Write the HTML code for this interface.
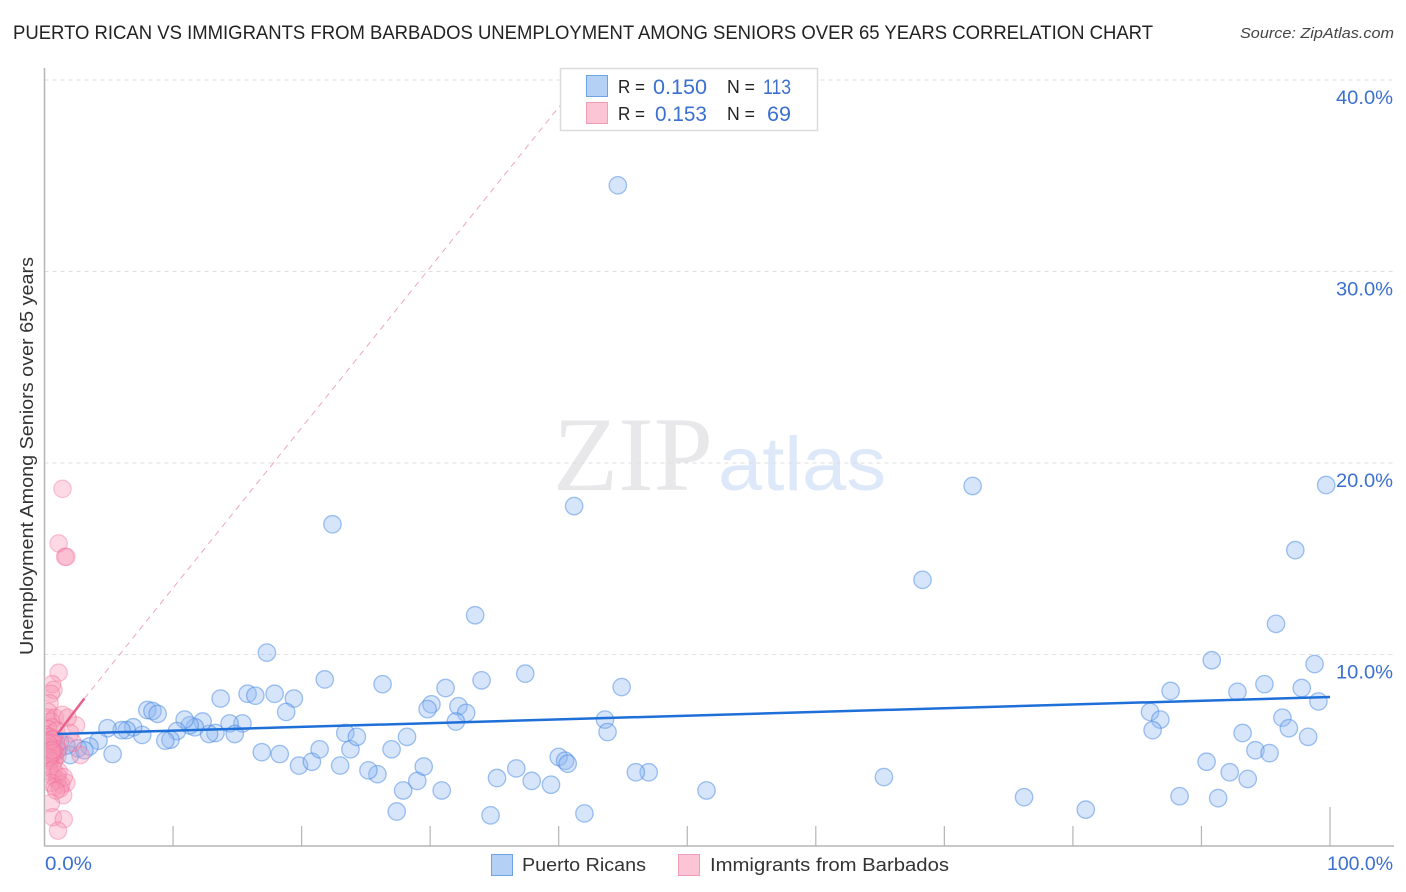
<!DOCTYPE html>
<html lang="en">
<head>
<meta charset="utf-8">
<title>Puerto Rican vs Immigrants from Barbados Unemployment Correlation Chart</title>
<style>
html,body{margin:0;padding:0;background:#fff;}
body{width:1406px;height:892px;overflow:hidden;}
svg{display:block;font-family:"Liberation Sans",sans-serif;}
</style>
</head>
<body>
<svg id="chart" width="1406" height="892" viewBox="0 0 1406 892" xmlns="http://www.w3.org/2000/svg">
  <defs>
    <clipPath id="plot-clip"><rect x="45.5" y="60" width="1350" height="786"/></clipPath>
  </defs>
  <text x="13" y="39" font-size="19.5" fill="#222" textLength="1140" lengthAdjust="spacingAndGlyphs">PUERTO RICAN VS IMMIGRANTS FROM BARBADOS UNEMPLOYMENT AMONG SENIORS OVER 65 YEARS CORRELATION CHART</text>
  <text x="1240" y="38" font-size="15" font-style="italic" fill="#444" textLength="154" lengthAdjust="spacingAndGlyphs">Source: ZipAtlas.com</text>
  <g id="watermark">
    <text x="553" y="490" font-family="'Liberation Serif',serif" font-size="106" fill="#e8e8eb" textLength="160" lengthAdjust="spacingAndGlyphs">ZIP</text>
    <text x="718" y="490" font-size="76" fill="#dde8f8" textLength="168" lengthAdjust="spacingAndGlyphs">atlas</text>
  </g>
  <g id="grid"></g>
  <g id="axes"></g>
  <g id="marks-blue" clip-path="url(#plot-clip)"></g>
  <g id="marks-pink" clip-path="url(#plot-clip)"></g>
  <g id="trends"></g>
  <g id="labels"></g>
  <text transform="translate(33,655) rotate(-90)" font-size="18" fill="#333" textLength="398" lengthAdjust="spacingAndGlyphs">Unemployment Among Seniors over 65 years</text>

  <g>
    <rect x="560.5" y="68.5" width="257" height="62" fill="#fff" stroke="#dcdcdc" stroke-width="1.5"/>
    <rect x="586.5" y="75.5" width="21" height="21" fill="#b5d0f5" stroke="#6ea3e3" stroke-width="1"/>
    <rect x="586.5" y="102.5" width="21" height="21" fill="#fcc5d6" stroke="#f29db8" stroke-width="1"/>
    <text x="618" y="93" font-size="18" fill="#222" textLength="27" lengthAdjust="spacingAndGlyphs">R =</text>
    <text x="653" y="94" font-size="21" fill="#3b70d0" textLength="54" lengthAdjust="spacingAndGlyphs">0.150</text>
    <text x="727" y="93" font-size="18" fill="#222" textLength="28" lengthAdjust="spacingAndGlyphs">N =</text>
    <text x="763" y="94" font-size="21" fill="#3b70d0" textLength="28" lengthAdjust="spacingAndGlyphs">113</text>
    <text x="618" y="120" font-size="18" fill="#222" textLength="27" lengthAdjust="spacingAndGlyphs">R =</text>
    <text x="655" y="121" font-size="21" fill="#3b70d0" textLength="52" lengthAdjust="spacingAndGlyphs">0.153</text>
    <text x="727" y="120" font-size="18" fill="#222" textLength="28" lengthAdjust="spacingAndGlyphs">N =</text>
    <text x="767" y="121" font-size="21" fill="#3b70d0" textLength="24" lengthAdjust="spacingAndGlyphs">69</text>
  </g>

  <g>
    <rect x="491.5" y="854.5" width="21" height="21" fill="#b5d0f5" stroke="#6ea3e3" stroke-width="1"/>
    <text x="522" y="871" font-size="18.5" fill="#333" textLength="124" lengthAdjust="spacingAndGlyphs">Puerto Ricans</text>
    <rect x="678.5" y="854.5" width="21" height="21" fill="#fcc5d6" stroke="#f29db8" stroke-width="1"/>
    <text x="710" y="871" font-size="18.5" fill="#333" textLength="239" lengthAdjust="spacingAndGlyphs">Immigrants from Barbados</text>
  </g>
</svg>
<script>
const yTickValues = [10, 20, 30, 40];
const yTickLabels = ["10.0%", "20.0%", "30.0%", "40.0%"];
const xTickValues = [10, 20, 30, 40, 50, 60, 70, 80, 90, 100];
const xEndLabels = ["0.0%", "100.0%"];

const blueX = [44.6,22.4,41.2,72.2,99.7,97.3,68.3,33.5,95.8,17.3,90.8,98.8,37.4,21.8,34,26.3,44.9,31.2,94.9,97.8,87.6,92.8,15.8,16.4,17.9,13.7,19.4,30.1,29.8,32.2,32.8,18.8,8,8.4,8.8,99.1,86,86.8,86.2,96.3,96.8,98.3,93.2,94.2,95.3,90.4,92.2,93.6,88.3,91.3,76.2,81,65.3,51.5,47,46,43.6,43.8,40,40.5,40.7,36.7,35.2,37.9,39.4,42,34.7,27.4,30.9,27.9,29,29.5,27,28.2,32,25.9,25.2,23,19.8,20.8,21.4,23.8,23.4,24.3,16.9,18.3,15.4,14.4,14.8,13.3,12.8,12.3,11.7,11.3,10.9,10.3,9.8,9.4,7.6,6.9,6.4,6,4.9,5.3,4.2,3.5,2.6,2,1.7,1.2,1,0.6,3.1];
const blueY = [34.5,16.8,17.75,18.8,18.85,15.45,13.9,12.05,11.6,10.1,9.7,9.5,9,8.7,8.65,8.45,8.3,8.25,8.45,8.25,8.1,8.05,7.95,7.85,7.95,7.7,7.7,7.4,7.15,7.3,6.95,7,7.1,7.05,6.9,7.55,7,6.6,6.05,6.7,6.15,5.7,5.9,5,4.85,4.4,3.85,3.5,2.6,2.5,2.55,1.9,3.6,2.9,3.85,3.85,6.6,5.95,4.65,4.45,4.3,4.05,3.55,3.4,3.2,1.7,1.6,1.8,2.9,2.9,3.4,4.15,5.05,5.7,6.5,3.75,3.95,4.2,4.2,4.4,5.05,5.05,5.9,5.7,4.9,4.8,6.4,6.4,5.85,5.9,5.85,6.5,6.2,6.3,6.6,6,5.55,5.5,5.8,6.2,6.05,6.05,6.15,4.8,5.5,5.2,5.1,4.75,5.25,5.45,5,4.9,5];

const pinkX = [1.4,1.1,1.6,1.7,1.1,0.6,0.7,0.5,0.4,0.3,0.25,0.8,0.5,1.4,2.45,1.8,0.6,0.3,0.9,2,0.1,0.4,0.7,0.2,0.5,0.9,0.1,0.4,0.7,1.1,0.2,0.5,0.8,0.1,0.4,0.7,1,0.2,0.5,0.8,0.1,0.4,0.7,0.3,0.6,0.3,0.6,0.3,0.6,2.8,2.2,0.7,1,1.7,1.3,1,0.8,1.45,0.5,0.66,1.5,1.05,0.4,0.7,1.1,0.5,1.2,1.5,0.9];
const pinkY = [18.65,15.8,15.1,15.1,9.05,8.45,8.15,7.95,7.45,7,6.7,6.7,6.5,6.85,6.3,6.7,6.2,6.1,6,5.9,5.8,5.7,5.6,5.5,5.4,5.3,5.2,5.15,5.1,5.05,5,4.95,4.9,4.85,4.8,4.75,4.7,4.65,4.6,4.55,4.5,4.45,4.4,4.3,5.55,5.35,4.85,4.6,5,4.75,5.4,3.6,3.7,3.3,3.2,3.45,3.1,2.65,2.25,1.5,1.4,0.8,3.9,4,3.9,3.3,3,3.6,2.9];

const blueTrendX = [1, 100];
const blueTrendY = [5.85, 7.78];
const pinkTrendX = [1, 3.1];
const pinkTrendY = [5.85, 7.7];
const pinkDashX = [3.1, 41.7];
const pinkDashY = [7.7, 40];

const NS = "http://www.w3.org/2000/svg";
const xScale = v => 44.5 + v * 12.855;
const yScale = v => 846 - v * 19.15;
function make(tag, parent, attrs) {
  const el = document.createElementNS(NS, tag);
  for (const k in attrs) el.setAttribute(k, attrs[k]);
  document.getElementById(parent).appendChild(el);
  return el;
}

yTickValues.forEach((v, i) => {
  const line = make("line", "grid", {x1: 44.5, x2: 1394, y1: yScale(v), y2: yScale(v), stroke: "#dedede", "stroke-width": 1, "stroke-dasharray": "4 4"});
  
  
  const t = make("text", "labels", {x: 1393, y: yScale(v) + 24, "text-anchor": "end", "font-size": 19.5, fill: "#3b70d0", textLength: 57, lengthAdjust: "spacingAndGlyphs"});
  t.textContent = yTickLabels[i];
  
  
});

const yAxisLine = make("line", "axes", {x1: 44.5, x2: 44.5, y1: 68, y2: 846, stroke: "#b5b5b5", "stroke-width": 1.5});


const xAxisLine = make("line", "axes", {x1: 44, x2: 1394, y1: 846, y2: 846, stroke: "#b5b5b5", "stroke-width": 1.5});



xTickValues.forEach(v => {
  const tick = make("line", "axes", {x1: xScale(v), x2: xScale(v), y1: v === 100 ? 807 : 826, y2: 846, stroke: "#b5b5b5", "stroke-width": 1.2});
  
  
});

const xStart = make("text", "labels", {x: 45, y: 870, "font-size": 19.5, fill: "#3b70d0", textLength: 47, lengthAdjust: "spacingAndGlyphs"});
xStart.textContent = xEndLabels[0];


const xEnd = make("text", "labels", {x: 1393, y: 870, "text-anchor": "end", "font-size": 19.5, fill: "#3b70d0", textLength: 66, lengthAdjust: "spacingAndGlyphs"});
xEnd.textContent = xEndLabels[1];



blueX.forEach((v, i) => {
  const c = make("circle", "marks-blue", {cx: xScale(v), cy: yScale(blueY[i]), r: 8.7, fill: "rgba(140,182,240,0.36)", stroke: "rgba(70,135,225,0.5)", "stroke-width": 1.3});
  
  
});
pinkX.forEach((v, i) => {
  const c = make("circle", "marks-pink", {cx: xScale(v), cy: yScale(pinkY[i]), r: 8.7, fill: "rgba(248,150,180,0.36)", stroke: "rgba(238,105,150,0.38)", "stroke-width": 1.2});
  
  
});

const pinkDash = make("line", "trends", {x1: xScale(pinkDashX[0]), y1: yScale(pinkDashY[0]), x2: xScale(pinkDashX[1]), y2: yScale(pinkDashY[1]), stroke: "#f0a5bd", "stroke-width": 1, "stroke-dasharray": "6 5"});


const pinkTrend = make("line", "trends", {x1: xScale(pinkTrendX[0]), y1: yScale(pinkTrendY[0]), x2: xScale(pinkTrendX[1]), y2: yScale(pinkTrendY[1]), stroke: "#e8608c", "stroke-width": 2.5});


const blueTrend = make("line", "trends", {x1: xScale(blueTrendX[0]), y1: yScale(blueTrendY[0]), x2: xScale(blueTrendX[1]), y2: yScale(blueTrendY[1]), stroke: "#1f6fd8", "stroke-width": 2.5});


</script>
</body>
</html>
